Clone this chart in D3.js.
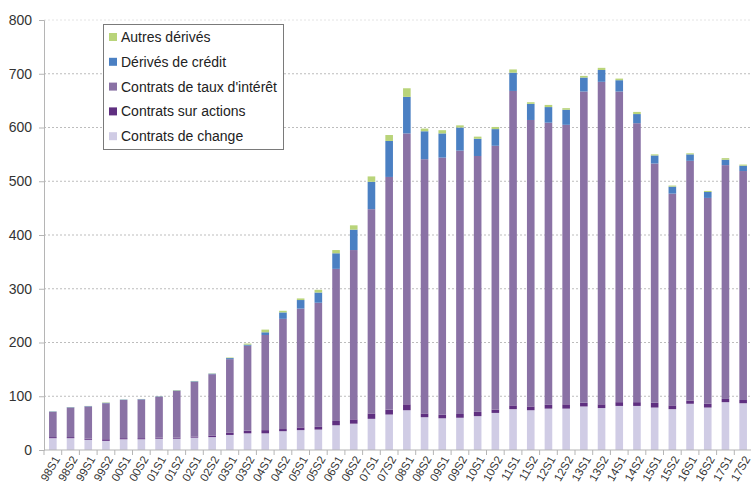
<!DOCTYPE html>
<html>
<head>
<meta charset="utf-8">
<script src="https://cdn.jsdelivr.net/npm/d3@7/dist/d3.min.js"></script>
<style>
  html, body { margin: 0; padding: 0; background: #fff; }
  svg { display: block; font-family: "Liberation Sans", Arial, sans-serif; }
</style>
</head>
<body>
<svg id="chart" width="751" height="483"></svg>
<script>
// Semesters, 1998 S1 to 2017 S2
const periods = [
  "98S1","98S2","99S1","99S2","00S1","00S2","01S1","01S2","02S1","02S2",
  "03S1","03S2","04S1","04S2","05S1","05S2","06S1","06S2","07S1","07S2",
  "08S1","08S2","09S1","09S2","10S1","10S2","11S1","11S2","12S1","12S2",
  "13S1","13S2","14S1","14S2","15S1","15S2","16S1","16S2","17S1","17S2"
];

// Stacked series, bottom to top
const contratsChange = [22,22,19,17,20,20,21,21,23,24,28,31,31,35,37,38,46,49,58,66,
                        74,61,59,60,63,69,76,74,77,77,81,78,82,82,79,76,86,79,89,87];
const contratsActions = [2,2,2,3,2,2,2,2,2,3,4,5,6,4,5,5,8,8,10,9,
                         11,7,7,7,8,6,7,7,7,8,7,7,7,7,9,7,6,7,6,6];
const contratsTaux = [47,55,60,67,71,72,76,87,102,114,137,158,177,205,221,231,283,315,380,433,
                      504,473,478,490,476,491,585,533,525,520,579,600,578,519,445,394,446,383,435,426];
const derivesCredit = [0.7,0.7,0.7,0.8,0.7,0.7,0.7,0.8,1,1,2,2,5,12,16,19,29,38,51,67,
                       68,52,45,43,32,31,34,30,29,28,26,22,21,17,15,13,12,11,10,10];
const autresDerives = [0.3,0.3,0.3,0.7,0.3,0.3,0.3,0.7,0.5,0.5,1,2,5,3,3,5,6,8,10,11,
                       16,5,6,4,4,4,6,3,4,3,3,4,3,4,2,2,2,2,3,2];

const yTicks = [0,100,200,300,400,500,600,700,800];

const seriesNames = ["Contrats de change","Contrats sur actions","Contrats de taux d'intérêt","Dérivés de crédit","Autres dérivés"];
const seriesValues = [contratsChange, contratsActions, contratsTaux, derivesCredit, autresDerives];
const seriesColors = ["#d0cce5","#5f2f80","#8a72a5","#4b80c3","#b9d47a"];

const rows = periods.map((p, i) => {
  const r = { period: p };
  seriesNames.forEach((n, k) => { r[n] = seriesValues[k][i]; });
  return r;
});
const stacked = d3.stack().keys(seriesNames)(rows);

const svg = d3.select("#chart");
const plotLeft = 44, plotRight = 752, plotTop = 20, plotBottom = 450;

const x = d3.scaleBand().domain(periods).range([plotLeft, plotRight]).padding(0);
const y = d3.scaleLinear().domain([0, 800]).range([plotBottom, plotTop]);
const barW = x.bandwidth() * 0.43;

// Horizontal dotted gridlines
svg.append("g").selectAll("line")
  .data(yTicks.filter(t => t > 0))
  .join("line")
  .attr("x1", plotLeft).attr("x2", plotRight)
  .attr("y1", d => y(d)).attr("y2", d => y(d))
  .attr("stroke", d => d === 800 ? "#e4e4e4" : "#bdbdbd")
  .attr("stroke-width", 1)
  .attr("stroke-dasharray", "2,2");

// Stacked bars
svg.append("g").selectAll("g")
  .data(stacked)
  .join("g")
  .attr("fill", (d, k) => seriesColors[k])
  .selectAll("rect")
  .data(d => d)
  .join("rect")
  .attr("x", d => x(d.data.period) + (x.bandwidth() - barW) / 2)
  .attr("width", barW)
  .attr("y", d => y(d[1]))
  .attr("height", d => Math.max(0, y(d[0]) - y(d[1])));

// Y axis
const yAxis = d3.axisLeft(y).tickValues(yTicks).tickSize(5).tickPadding(6).tickFormat(d3.format("d"));
const gy = svg.append("g").attr("transform", `translate(${plotLeft},0)`).call(yAxis);
gy.select(".domain").attr("stroke", "#b5b5b5");
gy.selectAll(".tick line").attr("stroke", "#b5b5b5");
gy.selectAll(".tick text").attr("fill", "#333").style("font-size", "14px").attr("dx", "-1");

// X axis: tick marks on category boundaries, rotated labels at centres
const gx = svg.append("g");
gx.append("line").attr("x1", plotLeft).attr("x2", plotRight).attr("y1", plotBottom).attr("y2", plotBottom)
  .attr("stroke", "#b5b5b5");
gx.selectAll("line.tk")
  .data(periods.concat(["end"]))
  .join("line").attr("class", "tk")
  .attr("x1", (d, i) => plotLeft + i * x.step()).attr("x2", (d, i) => plotLeft + i * x.step())
  .attr("y1", plotBottom).attr("y2", plotBottom + 5)
  .attr("stroke", "#b5b5b5");
gx.selectAll("text")
  .data(periods)
  .join("text")
  .attr("transform", d => `translate(${x(d) + x.bandwidth() / 2 + 4},${plotBottom + 7}) rotate(-60)`)
  .attr("text-anchor", "end")
  .attr("dy", "0.35em")
  .attr("fill", "#333")
  .style("font-size", "11.5px")
  .text(d => d);

// Legend (top series first)
const lg = svg.append("g");
lg.append("rect").attr("x", 103.5).attr("y", 24.5).attr("width", 180).attr("height", 125)
  .attr("fill", "#fff").attr("stroke", "#7a7a7a");
const legendOrder = [4, 3, 2, 1, 0];
legendOrder.forEach((k, j) => {
  const cy = 37 + j * 24.8;
  lg.append("rect").attr("x", 109).attr("y", cy - 4).attr("width", 8).attr("height", 8)
    .attr("fill", seriesColors[k]);
  lg.append("text").attr("x", 121).attr("y", cy).attr("dy", "0.36em")
    .attr("fill", "#222").style("font-size", "14px").text(seriesNames[k]);
});
</script>
</body>
</html>
